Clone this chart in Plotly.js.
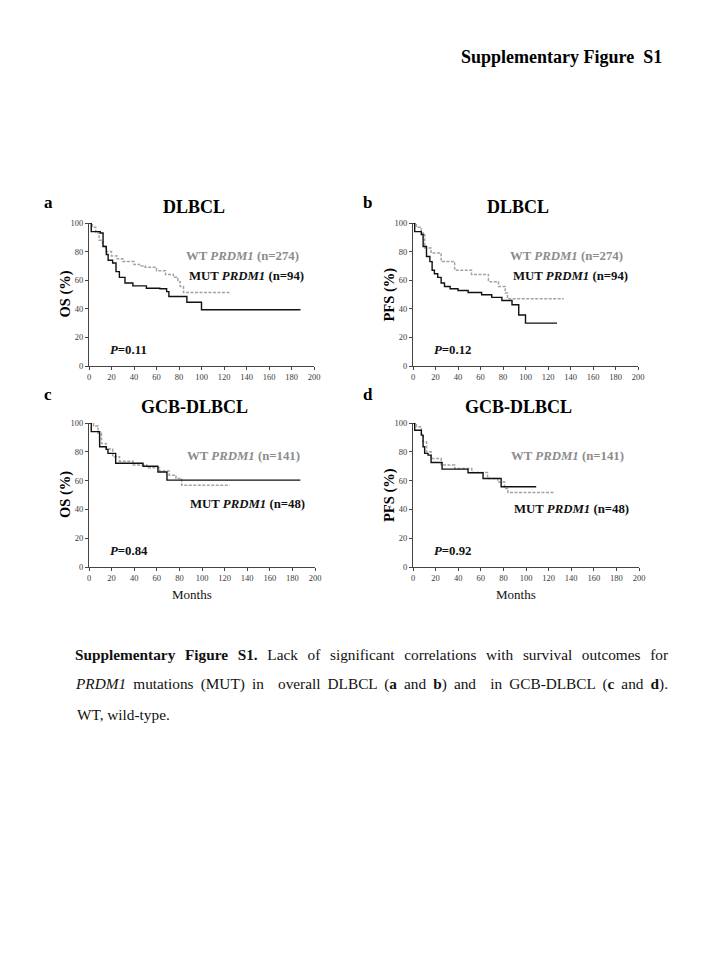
<!DOCTYPE html>
<html><head><meta charset="utf-8">
<script src="https://cdn.plot.ly/plotly-3.0.1.min.js"></script>
<style>html,body{margin:0;padding:0;background:#fff}#chart{width:720px;height:960px}</style>
</head><body><div id="chart"></div>
<script>
// Panel a: DLBCL overall survival
const aWtT = [0, 3, 6, 9, 12, 15, 20, 25, 30, 40, 45, 50, 60, 68, 75, 79, 81, 84, 125];
const aWtS = [100, 97, 93, 88, 84, 80, 77, 75, 73, 71, 70, 69, 66.6, 64, 62, 59, 55.6, 51.4, 51.4];
const aMutT = [0, 2, 10, 12.5, 15.4, 17, 21, 24, 27, 32, 39, 51, 63, 69, 71, 87, 100, 188];
const aMutS = [100, 94, 93, 83.6, 78, 74, 72, 66, 62, 58, 56, 54.4, 54, 52, 48.6, 44.6, 39.3, 39.3];
// Panel b: DLBCL progression-free survival
const bWtT = [0, 3, 7.4, 10.4, 16, 25, 37, 52, 67, 76, 82, 84, 134];
const bWtS = [100, 97, 93, 82.5, 79, 73, 67, 64, 59, 55.6, 51, 47, 47];
const bMutT = [0, 1.5, 7.4, 9, 12, 15, 17, 19, 22, 25, 28, 33, 40, 49, 61, 70, 79, 88, 94, 100, 128];
const bMutS = [100, 94, 92, 83.6, 76.6, 73, 67, 64.5, 62, 58, 55.6, 54, 52.8, 51.4, 49.8, 48, 45.8, 42.8, 35.7, 30, 30];
// Panel c: GCB-DLBCL overall survival
const cWtT = [0, 4, 8, 11, 15, 21, 27, 39, 51, 62.5, 71, 77, 82, 124.5];
const cWtS = [100, 98, 92.8, 85.8, 82, 76.6, 73.5, 70.8, 69, 66.6, 63.8, 61.5, 56.8, 56.8];
const cMutT = [0, 2, 9.4, 15.3, 16.8, 23.6, 47.8, 61, 69, 187];
const cMutS = [100, 94, 83.5, 81.7, 78.9, 72, 70, 66, 60.3, 60.3];
// Panel d: GCB-DLBCL progression-free survival
const dWtT = [0, 3, 7.4, 9, 12, 16, 25, 37, 52, 66, 75, 81, 84, 125];
const dWtS = [100, 97.4, 92, 87, 80, 75.4, 70.8, 68.4, 65.7, 61.5, 59, 54.5, 51.7, 51.7];
const dMutT = [0, 1.5, 7.4, 8.9, 10.3, 13.3, 16, 25.7, 48.7, 62, 78, 109];
const dMutS = [100, 95, 91.6, 83.5, 78.9, 77.7, 72.6, 68, 65.4, 61.5, 55.7, 55.7];

const xTicks = [0, 20, 40, 60, 80, 100, 120, 140, 160, 180, 200];
const yTicks = [0, 20, 40, 60, 80, 100];
const panelLetters = ['a', 'b', 'c', 'd'];
const panelTitles = ['DLBCL', 'DLBCL', 'GCB-DLBCL', 'GCB-DLBCL'];
const yTitles = ['OS (%)', 'PFS (%)', 'OS (%)', 'PFS (%)'];
const wtLabels = ['WT <i>PRDM1</i> (n=274)', 'WT <i>PRDM1</i> (n=274)', 'WT <i>PRDM1</i> (n=141)', 'WT <i>PRDM1</i> (n=141)'];
const mutLabels = ['MUT <i>PRDM1</i> (n=94)', 'MUT <i>PRDM1</i> (n=94)', 'MUT <i>PRDM1</i> (n=48)', 'MUT <i>PRDM1</i> (n=48)'];
const pValues = ['0.11', '0.12', '0.84', '0.92'];
const xTitle = 'Months';
const figTitle = '<b>Supplementary Figure  S1</b>';
const captionLines = [
  '<b>Supplementary Figure S1.</b> Lack of significant correlations with survival outcomes for',
  '<i>PRDM1</i> mutations (MUT) in  overall DLBCL (<b>a</b> and <b>b</b>) and  in GCB-DLBCL (<b>c</b> and <b>d</b>).',
  'WT, wild-type.'
];

const W = 720, H = 960;
const PX = x => x / W, PY = y => 1 - y / H;
const SERIF = 'Liberation Serif, Times New Roman, serif';

// panel geometry in pixels: [left, right, top, bottom]
const boxes = [[89, 314, 223, 366], [413, 638, 223, 366], [89, 315, 423, 567], [413, 639, 423, 567]];
const letterPos = [[42, 203], [361, 203], [42, 394], [361, 394]];
const wtY = [256, 256, 456, 456];
const mutY = [276, 276, 504, 509];

const wtSeries = [[aWtT, aWtS], [bWtT, bWtS], [cWtT, cWtS], [dWtT, dWtS]];
const mutSeries = [[aMutT, aMutS], [bMutT, bMutS], [cMutT, cMutS], [dMutT, dMutS]];

const traces = [];
const layout = {
  width: W, height: H, margin: {l: 0, r: 0, t: 0, b: 0},
  paper_bgcolor: '#fff', plot_bgcolor: '#fff', showlegend: false,
  font: {family: SERIF, color: '#000'},
  annotations: []
};
const A = layout.annotations;

for (let i = 0; i < 4; i++) {
  const sfx = i === 0 ? '' : String(i + 1);
  const xa = 'x' + sfx, ya = 'y' + sfx;
  traces.push({x: wtSeries[i][0], y: wtSeries[i][1], xaxis: xa, yaxis: ya, type: 'scatter', mode: 'lines',
    line: {shape: 'hv', color: '#a3a3a3', width: 1.5, dash: '3px,1.5px'}, hoverinfo: 'skip'});
  traces.push({x: mutSeries[i][0], y: mutSeries[i][1], xaxis: xa, yaxis: ya, type: 'scatter', mode: 'lines',
    line: {shape: 'hv', color: '#111', width: 1.4}, hoverinfo: 'skip'});
  const b = boxes[i];
  const axBase = {showgrid: false, zeroline: false, showline: true, linecolor: '#444', linewidth: 1,
    ticks: 'outside', ticklen: 3, tickcolor: '#444', tickfont: {family: SERIF, size: 8.5, color: '#3a3a3a'}, fixedrange: true};
  layout['xaxis' + sfx] = Object.assign({}, axBase, {domain: [PX(b[0]), PX(b[1])], range: [0, 200],
    tickvals: xTicks, anchor: ya});
  layout['yaxis' + sfx] = Object.assign({}, axBase, {domain: [PY(b[3]), PY(b[2])], range: [0, 100],
    tickvals: yTicks, anchor: xa});
  A.push({xref: 'paper', yref: 'paper', x: PX(letterPos[i][0]), y: PY(letterPos[i][1]), text: '<b>' + panelLetters[i] + '</b>',
    showarrow: false, xanchor: 'left', yanchor: 'middle', font: {size: 17, family: SERIF}});
  A.push({xref: 'paper', yref: 'paper', x: PX((b[0] + b[1]) / 2 - 8), y: PY(b[2] - 16), text: '<b>' + panelTitles[i] + '</b>',
    showarrow: false, xanchor: 'center', yanchor: 'middle', font: {size: 18, family: SERIF}});
  A.push({xref: 'paper', yref: 'paper', x: PX(b[0] - 24), y: PY((b[2] + b[3]) / 2), text: '<b>' + yTitles[i] + '</b>',
    textangle: -90, showarrow: false, xanchor: 'center', yanchor: 'middle', font: {size: 14.5, family: SERIF}});
  A.push({xref: 'paper', yref: 'paper', x: PX(b[1] - 13), y: PY(wtY[i]), text: '<b>' + wtLabels[i] + '</b>',
    showarrow: false, xanchor: 'right', yanchor: 'middle', font: {size: 12.8, family: SERIF, color: '#8c8c8c'}});
  A.push({xref: 'paper', yref: 'paper', x: PX(b[1] - 8), y: PY(mutY[i]), text: '<b>' + mutLabels[i] + '</b>',
    showarrow: false, xanchor: 'right', yanchor: 'middle', font: {size: 12.8, family: SERIF, color: '#111'}});
  A.push({xref: 'paper', yref: 'paper', x: PX(b[0] + 19), y: PY(b[3] - 16), text: '<b><i>P</i>=' + pValues[i] + '</b>',
    showarrow: false, xanchor: 'left', yanchor: 'middle', font: {size: 12.8, family: SERIF, color: '#111'}});
  if (i >= 2) {
    A.push({xref: 'paper', yref: 'paper', x: PX((b[0] + b[1]) / 2 - 10), y: PY(594), text: xTitle,
      showarrow: false, xanchor: 'center', yanchor: 'middle', font: {size: 13, family: SERIF, color: '#111'}});
  }
}

A.push({xref: 'paper', yref: 'paper', x: PX(561), y: PY(57), text: figTitle,
  showarrow: false, xanchor: 'center', yanchor: 'middle', font: {size: 18, family: SERIF}});
const captionY = [654, 684, 714];
const captionLeft = 75, captionRight = 668;
const justifyIdx = [];
captionLines.forEach((t, k) => {
  if (k < 2) justifyIdx.push(A.length);
  A.push({xref: 'paper', yref: 'paper', x: PX(captionLeft), y: PY(captionY[k]), text: t,
    showarrow: false, xanchor: 'left', yanchor: 'middle', font: {size: 15.3, family: SERIF, color: '#111'}});
});

Plotly.newPlot('chart', traces, layout, {displayModeBar: false, staticPlot: true}).then(() => {
  // justify the first two caption lines to the text block width
  const host = document.getElementById('chart').getBoundingClientRect();
  const target = captionRight - captionLeft;
  justifyIdx.forEach(idx => {
    const g = document.querySelector('g.annotation[data-index="' + idx + '"]');
    if (!g) return;
    const txt = g.querySelector('text.annotation-text');
    if (!txt) return;
    const w = txt.getBoundingClientRect().width;
    const nSpaces = (txt.textContent.match(/ /g) || []).length;
    if (nSpaces > 0 && w < target) {
      txt.style.wordSpacing = ((target - w) / nSpaces) + 'px';
      const r = txt.getBoundingClientRect();
      const dx = (captionLeft + host.left) - r.left;
      const x0 = parseFloat(txt.getAttribute('x') || '0');
      txt.setAttribute('x', x0 + dx);
      txt.setAttribute('text-anchor', txt.getAttribute('text-anchor') || 'middle');
    }
  });
});
</script></body></html>
